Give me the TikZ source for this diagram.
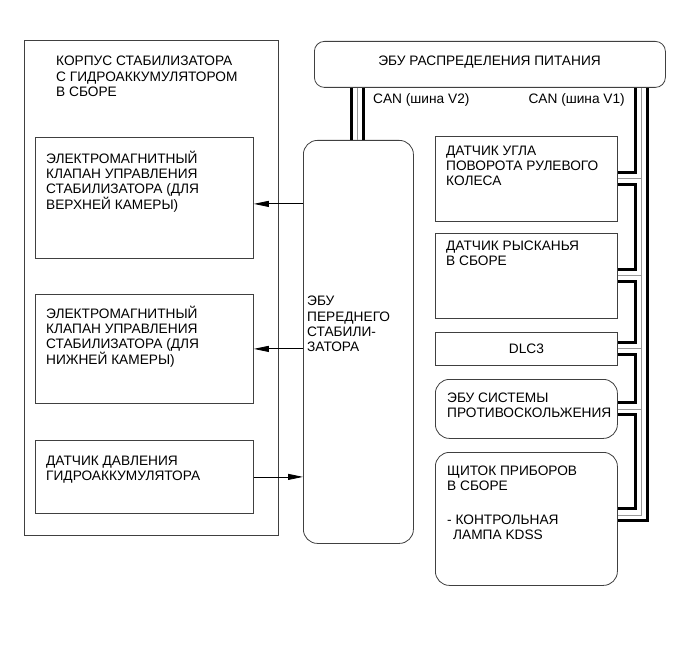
\documentclass[tikz,border=0pt]{standalone}
\usepackage{fontspec}
\setmainfont{Liberation Sans}
\usetikzlibrary{arrows.meta}

\begin{document}
\begin{tikzpicture}[x=1pt,y=-1pt,
			every node/.style={inner sep=0pt,font=\fontsize{13.7}{15.4}\selectfont},
			block/.style={draw=black!75,line width=.8pt,anchor=north west},
			rblock/.style={block,rounded corners=14pt},
			txt/.style={align=left,anchor=north west,yshift=12pt,execute at begin node={\rule{0pt}{12pt}}},
			canbold/.style={line width=3pt},
			canthin/.style={line width=.8pt,draw=black!40},
			signal/.style={line width=.8pt,-{Triangle[length=15pt,width=6pt]}}]
		\path[fill=white] (0,0) rectangle (691,660);
		\node[block,minimum width=254pt,minimum height=495pt] (housing) at (24,40) {};
		\node[block,minimum width=218pt,minimum height=121pt] (valveup) at (35,137) {};
		\node[block,minimum width=218pt,minimum height=109pt] (valvelow) at (35,294) {};
		\node[block,minimum width=218pt,minimum height=73pt] (psens) at (35,440) {};
		\node[rblock,minimum width=110pt,minimum height=403pt] (stabecu) at (303,140) {};
		\node[block,rounded corners=10pt,minimum width=351pt,minimum height=46pt] (pdu) at (314,41) {};
		\node[block,minimum width=182pt,minimum height=85pt] (steer) at (435,136) {};
		\node[block,minimum width=182pt,minimum height=85pt] (yaw) at (435,233) {};
		\node[block,minimum width=182pt,minimum height=33pt] (dlc) at (435,332) {DLC3};
		\node[rblock,minimum width=182pt,minimum height=59pt] (abs) at (435,379) {};
		\node[rblock,minimum width=182pt,minimum height=133pt] (kombi) at (435,452) {};

		\node[anchor=base] (pdu-t) at (489.5,66) {ЭБУ РАСПРЕДЕЛЕНИЯ ПИТАНИЯ};
		\node[txt] (housing-t) at (56,68) {КОРПУС СТАБИЛИЗАТОРА\\С ГИДРОАККУМУЛЯТОРОМ\\В СБОРЕ};
		\node[txt] (valveup-t) at (46,162.5) {ЭЛЕКТРОМАГНИТНЫЙ\\КЛАПАН УПРАВЛЕНИЯ\\СТАБИЛИЗАТОРА (ДЛЯ\\ВЕРХНЕЙ КАМЕРЫ)};
		\node[txt] (valvelow-t) at (46,317.5) {ЭЛЕКТРОМАГНИТНЫЙ\\КЛАПАН УПРАВЛЕНИЯ\\СТАБИЛИЗАТОРА (ДЛЯ\\НИЖНЕЙ КАМЕРЫ)};
		\node[txt] (psens-t) at (46,467.5) {ДАТЧИК ДАВЛЕНИЯ\\ГИДРОАККУМУЛЯТОРА};
		\node[txt] (stabecu-t) at (307,308) {ЭБУ\\ПЕРЕДНЕГО\\СТАБИЛИ-\\ЗАТОРА};
		\node[txt] (steer-t) at (446,157.5) {ДАТЧИК УГЛА\\ПОВОРОТА РУЛЕВОГО\\КОЛЕСА};
		\node[txt] (yaw-t) at (446,252.5) {ДАТЧИК РЫСКАНЬЯ\\В СБОРЕ};
		\node[txt] (abs-t) at (447,404.5) {ЭБУ СИСТЕМЫ\\ПРОТИВОСКОЛЬЖЕНИЯ};
		\node[txt] (kombi-t) at (447,477.5) {ЩИТОК ПРИБОРОВ\\В СБОРЕ\\[18pt]- КОНТРОЛЬНАЯ\\\hspace{6pt}ЛАМПА KDSS};
		\node[anchor=base west] (can2) at (373,103.5) {CAN (шина V2)};
		\node[anchor=base east] (can1) at (625,103.5) {CAN (шина V1)};

		\coordinate (v2a) at (351,0);
		\coordinate (v2b) at (357,0);
		\coordinate (v2c) at (363,0);
		\coordinate (b1) at (635,0);
		\coordinate (b2) at (641,0);
		\coordinate (b3) at (647,0);
		\coordinate (kj) at ([yshift=4pt]kombi.east);

		\foreach \c/\s in {v2a/canbold,v2b/canthin,v2c/canbold}
			\draw[\s] (pdu.south -| \c) -- (stabecu.north -| \c);

		\draw[canbold] (pdu.south -| b3) |- ([yshift=-6pt]kj);
		\draw[canthin] (pdu.south -| b2) |- (kj);
		\foreach \n in {steer,yaw,dlc,abs}
			\draw[canthin] (\n.east) -- (\n.east -| b2);
		\draw[canbold] (pdu.south -| b1) |- ([yshift=6pt]steer.east);
		\foreach \a/\b in {steer/yaw.east,yaw/dlc.east,dlc/abs.east,abs/kj}
			\draw[canbold] ([yshift=-6pt]\a.east) -- ++(18pt,0) |- ([yshift=6pt]\b);

		\draw[signal] ([yshift=-6pt]valveup.east -| stabecu.west) -- ([yshift=-6pt]valveup.east);
		\draw[signal] (valvelow.east -| stabecu.west) -- (valvelow.east);
		\draw[signal] (psens.east) -- (psens.east -| stabecu.west);
\end{tikzpicture}
\end{document}
